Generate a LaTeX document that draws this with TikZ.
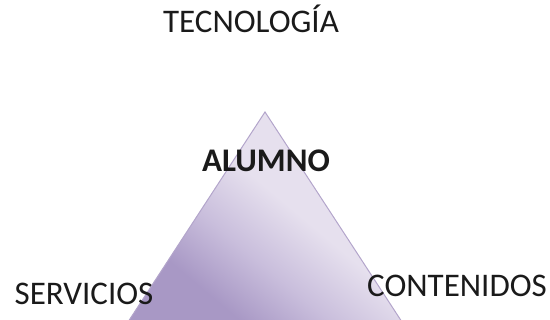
\documentclass[tikz,border=0pt]{standalone}
\usepackage{fontspec}
\setmainfont{Carlito}
\definecolor{txt}{HTML}{1A1A1A}
\definecolor{tridark}{HTML}{A898C5}
\definecolor{trimid}{HTML}{C9BEDC}
\definecolor{trilight}{HTML}{E6E0EE}
\definecolor{triedge}{HTML}{B3A5CB}
\pgfdeclareverticalshading{trishade}{100bp}{color(0bp)=(tridark); color(30bp)=(tridark); color(42bp)=(trimid); color(55bp)=(trilight); color(100bp)=(trilight)}
\tikzset{
  lbl/.style={anchor=base, inner sep=0pt, text=txt, font=\fontsize{33}{38}\selectfont},
  tri/.style={draw=triedge, line width=1pt, shading=trishade, shading angle=-40}
}
\begin{document}
\begin{tikzpicture}[x=1pt,y=1pt]
\useasboundingbox (0,0) rectangle (550,320);
\begin{scope}
\clip (0,0) rectangle (550,320);
\path[tri] (265,208) -- (128,-2) -- (402,-2) -- cycle;
\end{scope}
\node[lbl] (tec) at (251,287) {TECNOLOGÍA};
\node[lbl, font=\fontsize{33}{38}\selectfont\bfseries] (alu) at (266,148) {ALUMNO};
\node[lbl] (ser) at (84,15) {SERVICIOS};
\node[lbl] (con) at (457,23) {CONTENIDOS};
\end{tikzpicture}
\end{document}
